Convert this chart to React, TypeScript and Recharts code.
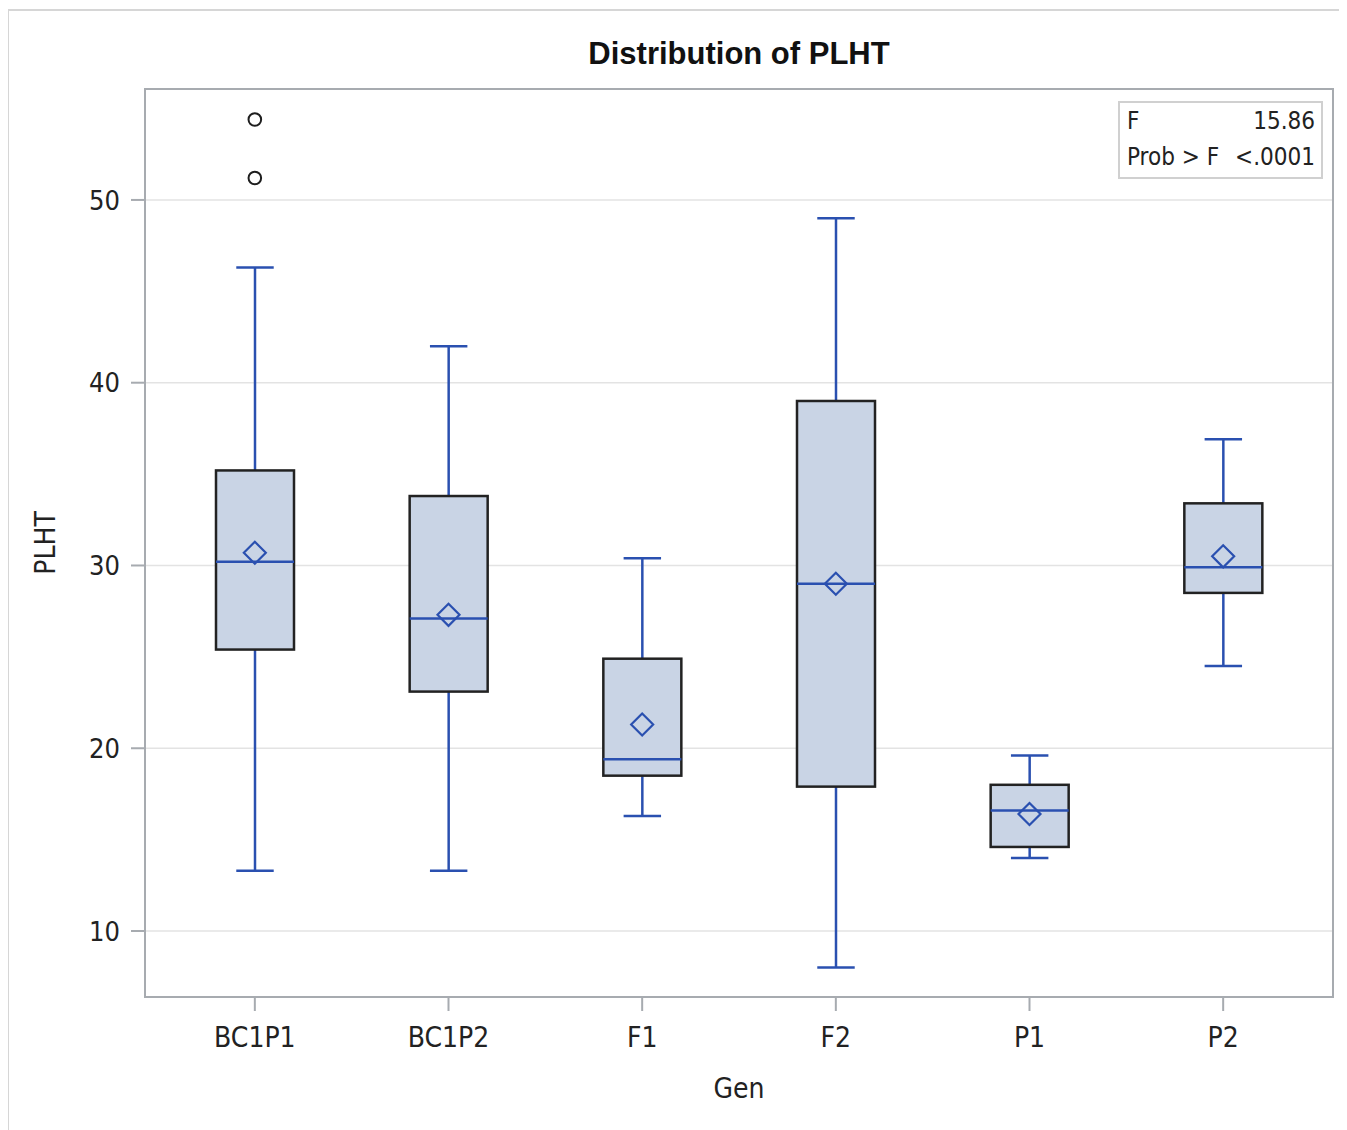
import React from 'react'
import { ComposedChart, Bar, Scatter, XAxis, YAxis, CartesianGrid } from 'recharts'

// categories and box statistics
const gens = ['BC1P1', 'BC1P2', 'F1', 'F2', 'P1', 'P2']
const lowerWhisker = [13.3, 13.3, 16.3, 8.0, 14.0, 24.5]
const q1 = [25.4, 23.1, 18.5, 17.9, 14.6, 28.5]
const median = [30.2, 27.1, 19.4, 29.0, 16.6, 29.9]
const q3 = [35.2, 33.8, 24.9, 39.0, 18.0, 33.4]
const upperWhisker = [46.3, 42.0, 30.4, 49.0, 19.6, 36.9]
const means = [30.7, 27.3, 21.3, 29.0, 16.4, 30.5]

// outliers
const outlierGen = ['BC1P1', 'BC1P1']
const outlierValues = [54.4, 51.2]

const yTicks = [10, 20, 30, 40, 50]

const data = gens.map((g, i) => ({
  gen: g,
  lower: lowerWhisker[i],
  q1: q1[i],
  median: median[i],
  q3: q3[i],
  upper: upperWhisker[i],
  mean: means[i],
}))

const outliers = outlierGen.map((g, i) => ({ gen: g, value: outlierValues[i] }))

const FONT = '"Liberation Sans Narrow", "DejaVu Sans Condensed", serif'
const TITLE_FONT = '"Liberation Sans", Arial, sans-serif'
const BLUE = '#2a50b0'
const FILL = '#c9d4e5'
const AXIS = '#a7abb0'

// draws whiskers, box and median inside the range bar
const BoxShape = (props: any) => {
  const { x, y, width, height, payload } = props
  const top = Math.min(y, y + height)
  const h = Math.abs(height)
  const span = payload.upper - payload.lower
  const py = (v: number) => top + ((payload.upper - v) / span) * h
  const cx = x + width / 2
  const cap = width * 0.24
  return (
    <g>
      <line x1={cx} x2={cx} y1={py(payload.upper)} y2={py(payload.q3)} stroke={BLUE} strokeWidth={2.5} />
      <line x1={cx} x2={cx} y1={py(payload.q1)} y2={py(payload.lower)} stroke={BLUE} strokeWidth={2.5} />
      <line x1={cx - cap} x2={cx + cap} y1={py(payload.upper)} y2={py(payload.upper)} stroke={BLUE} strokeWidth={2.5} />
      <line x1={cx - cap} x2={cx + cap} y1={py(payload.lower)} y2={py(payload.lower)} stroke={BLUE} strokeWidth={2.5} />
      <rect
        x={x}
        y={py(payload.q3)}
        width={width}
        height={py(payload.q1) - py(payload.q3)}
        fill={FILL}
        stroke="#222"
        strokeWidth={2.5}
      />
      <line x1={x} x2={x + width} y1={py(payload.median)} y2={py(payload.median)} stroke={BLUE} strokeWidth={2.5} />
    </g>
  )
}

const Diamond = (props: any) => {
  const { cx, cy } = props
  const r = 11
  return (
    <polygon
      points={`${cx},${cy - r} ${cx + r},${cy} ${cx},${cy + r} ${cx - r},${cy}`}
      fill="none"
      stroke={BLUE}
      strokeWidth={2.2}
    />
  )
}

const Outlier = (props: any) => {
  const { cx, cy } = props
  return <circle cx={cx} cy={cy} r={6.3} fill="#fff" stroke="#1e1e1e" strokeWidth={2} />
}

export default function App() {
  return (
    <div style={{ position: 'relative', width: 1339, height: 1122, fontFamily: FONT }}>
      {/* outer frame */}
      <div
        style={{
          position: 'absolute',
          left: -1,
          top: 1,
          width: 1400,
          height: 1200,
          borderLeft: '2px solid #d6d6d6',
          borderTop: '2px solid #d6d6d6',
          boxSizing: 'border-box',
        }}
      />
      <div
        style={{
          position: 'absolute',
          left: 137,
          width: 1188,
          top: 28,
          textAlign: 'center',
          fontSize: 31,
          fontFamily: TITLE_FONT,
          fontWeight: 'bold',
          lineHeight: '36px',
          color: '#111',
        }}
      >
        Distribution of PLHT
      </div>
      <ComposedChart
        width={1339}
        height={1122}
        data={data}
        margin={{ top: 81, right: 14, bottom: 0, left: 0 }}
        style={{ position: 'absolute', left: 0, top: 0, fontFamily: FONT }}
      >
        <CartesianGrid vertical={false} stroke="#e3e3e3" strokeWidth={1.5} />
        <XAxis
          dataKey="gen"
          type="category"
          allowDuplicatedCategory={false}
          padding={{ left: 13, right: 13 }}
          height={133}
          tickSize={14}
          tickMargin={16}
          stroke={AXIS}
          strokeWidth={2}
          tick={{ fontSize: 28, fill: '#222', fontFamily: FONT }}
          label={({ viewBox }: any) => (
            <text
              x={viewBox.x + viewBox.width / 2}
              y={viewBox.y + 91}
              textAnchor="middle"
              dominantBaseline="central"
              fontSize={28}
              fill="#222"
              fontFamily={FONT}
            >
              Gen
            </text>
          )}
        />
        <YAxis
          type="number"
          domain={[6.39, 56.07]}
          ticks={yTicks}
          allowDataOverflow
          width={137}
          tickSize={14}
          tickMargin={11}
          stroke={AXIS}
          strokeWidth={2}
          tick={{ fontSize: 27, fill: '#222', fontFamily: FONT }}
          label={({ viewBox }: any) => (
            <text
              x={viewBox.x + 37}
              y={viewBox.y + viewBox.height / 2}
              transform={`rotate(-90, ${viewBox.x + 37}, ${viewBox.y + viewBox.height / 2})`}
              textAnchor="middle"
              dominantBaseline="central"
              fontSize={28}
              fill="#222"
              fontFamily={FONT}
            >
              PLHT
            </text>
          )}
        />
        <Bar
          dataKey={(d: any) => [d.lower, d.upper]}
          barSize={78}
          shape={BoxShape}
          isAnimationActive={false}
        />
        <Scatter dataKey="mean" shape={Diamond} isAnimationActive={false} />
        <Scatter data={outliers} dataKey="value" shape={Outlier} isAnimationActive={false} />
      </ComposedChart>
      {/* plot area frame */}
      <div
        style={{
          position: 'absolute',
          left: 136,
          top: 80,
          width: 1190,
          height: 910,
          border: `2px solid ${AXIS}`,
          boxSizing: 'border-box',
          pointerEvents: 'none',
        }}
      />
      {/* statistics inset */}
      <div
        style={{
          position: 'absolute',
          left: 1110,
          top: 93,
          width: 205,
          height: 78,
          border: '2px solid #d0d0d0',
          boxSizing: 'border-box',
          padding: '0 6px 0 7px',
          fontSize: 24,
          color: '#222',
          lineHeight: '36px',
          background: '#fff',
          whiteSpace: 'nowrap',
        }}
      >
        <div style={{ display: 'flex', justifyContent: 'space-between' }}>
          <span>F</span>
          <span>15.86</span>
        </div>
        <div style={{ display: 'flex', justifyContent: 'space-between' }}>
          <span>Prob &gt; F</span>
          <span>&lt;.0001</span>
        </div>
      </div>
    </div>
  )
}
